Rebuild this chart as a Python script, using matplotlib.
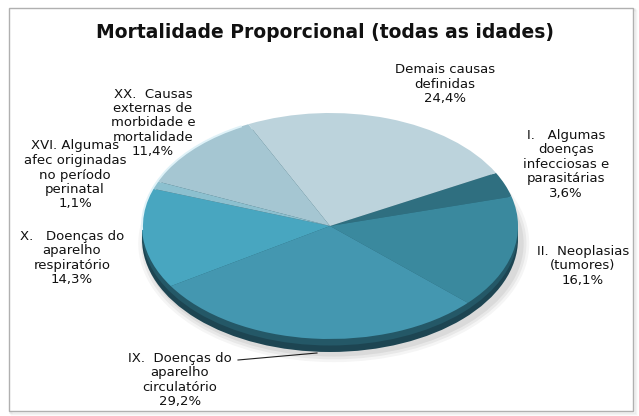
import numpy as np
import matplotlib
matplotlib.use("Agg")
import matplotlib.pyplot as plt
from matplotlib.patches import Ellipse, Rectangle, Arc

# ─── data (clockwise from the upper-right) ───
causes = [
    "I.   Algumas\ndoenças\ninfecciosas e\nparasitárias",
    "II.  Neoplasias\n(tumores)",
    "IX.  Doenças do\naparelho\ncirculatório",
    "X.   Doenças do\naparelho\nrespiratório",
    "XVI. Algumas\nafec originadas\nno período\nperinatal",
    "XX.  Causas\nexternas de\nmorbidade e\nmortalidade",
    "Demais causas\ndefinidas",
]
shares = [3.6, 16.1, 29.2, 14.3, 1.1, 11.4, 24.4]
colors = ["#2f6f80", "#3a899e", "#4497b0", "#48a6c0", "#8cc0cf", "#a5c6d2", "#bcd3dc"]

# label centres in pixels (x, y from top)
label_pos = [(566, 164), (583, 266), (180, 380), (72, 258), (75, 175), (153, 123), (445, 84)]

W, H = 639, 416
fig = plt.figure(figsize=(W / 100, H / 100), dpi=100)

# background axes in pixel coordinates, for frame, text and leader line
bg = fig.add_axes([0, 0, 1, 1])
bg.set_xlim(0, W); bg.set_ylim(H, 0)
bg.axis("off")

# soft shadow of the chart frame, then the frame itself
for i, a in enumerate([0.10, 0.07, 0.04]):
    bg.add_patch(Rectangle((10 + i, 9 + i), 625, 404, facecolor="none",
                           edgecolor="#808080", lw=1.2, alpha=a))
bg.add_patch(Rectangle((9, 8), 624, 403, facecolor="white", edgecolor="#b0b0b0", lw=1.0))

bg.text(325, 32, "Mortalidade Proporcional (todas as idades)", ha="center", va="center",
        fontsize=13.5, fontweight="bold", color="#111111")

for txt, v, (x, y) in zip(causes, shares, label_pos):
    pct = f"{v:.1f}%".replace(".", ",")
    bg.text(x, y, f"{txt}\n{pct}", ha="center", va="center",
            fontsize=9.5, linespacing=1.15, color="#111111")

bg.plot([238, 317], [360, 353], color="#222222", lw=0.8)

# pie axes, stretched into the tilted ellipse
cx, cy, a, b, rim = 330, 226, 188, 113, 13
ax = fig.add_axes([(cx - a) / W, 1 - (cy + b) / H, 2 * a / W, 2 * b / H])
ax.pie(shares, colors=colors, startangle=28, counterclock=False,
       wedgeprops=dict(linewidth=0))
ax.set_aspect("auto")
ax.set_xlim(-1, 1); ax.set_ylim(-1, 1)
ax.axis("off")

d = rim / b
# shadow below the pie
for k, al in enumerate([0.06, 0.05, 0.04]):
    ax.add_patch(Ellipse((0.02, -d - 0.04), 2.02 + 0.03 * k, 2.0 + 0.05 * k,
                         facecolor="black", alpha=al, lw=0, zorder=-3, clip_on=False))
# side of the 3-D disc
ax.add_patch(Ellipse((0, -d), 2, 2, facecolor="#1d4552", lw=0, zorder=-2, clip_on=False))
ax.add_patch(Ellipse((0, -d * 0.5), 2, 2, facecolor="#245867", lw=0, zorder=-1, clip_on=False))
# light highlight along the upper-left rim
ax.add_patch(Arc((0, 0), 2, 2, theta1=118, theta2=182, color="#dff2f8", lw=1.4,
                 zorder=5, clip_on=False))

fig.savefig("out.png", dpi=100)
